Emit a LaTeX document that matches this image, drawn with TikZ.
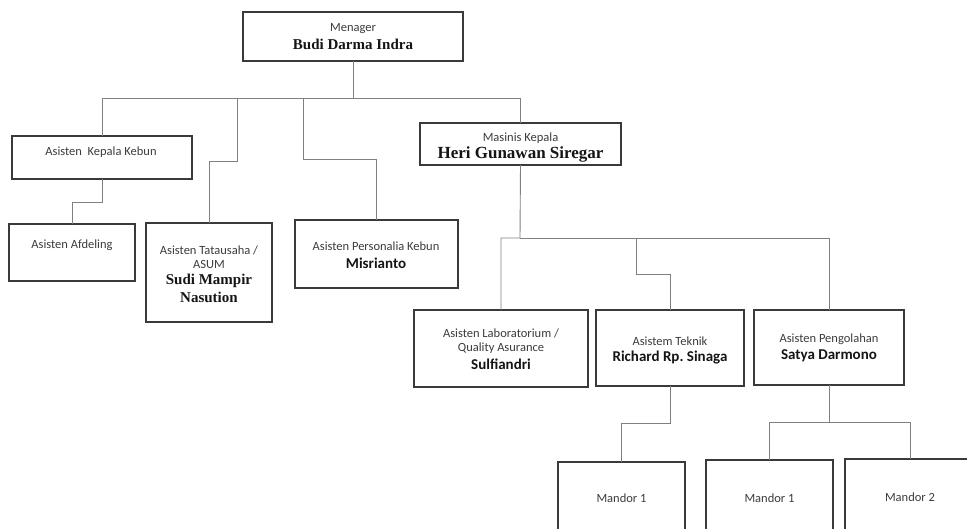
\documentclass[tikz,border=0pt]{standalone}
\usepackage{fontspec}
\newfontfamily\carlito{Carlito}
\newfontfamily\lserif{Liberation Serif}
\definecolor{boxc}{HTML}{3A3A3A}
\definecolor{linec}{HTML}{808080}
\definecolor{txtc}{HTML}{3C3C3C}
\definecolor{namec}{HTML}{151515}
\tikzset{
  orgbox/.style={draw=boxc, line width=1.4pt, rectangle, inner sep=0pt, outer sep=0pt, fill=white},
  conn/.style={draw=linec, line width=0.9pt},
  lbl/.style={font=\carlito\fontsize{12.5}{14}\selectfont, text=txtc, inner sep=0pt},
  nmserif/.style={font=\lserif\bfseries\fontsize{15}{17}\selectfont, text=namec, inner sep=0pt},
  nmsans/.style={font=\carlito\bfseries\fontsize{15}{17}\selectfont, text=namec, inner sep=0pt},
}
\begin{document}
\frenchspacing
\begin{tikzpicture}[x=1pt,y=-1pt]
\useasboundingbox (0,0) rectangle (967,529);
\clip (0,0) rectangle (967,529);
% boxes
\node[orgbox, minimum width=220pt, minimum height=49pt] (mgr) at (353,36.5) {};
\node[orgbox, minimum width=180pt, minimum height=43pt] (akk) at (102,157.5) {};
\node[orgbox, minimum width=126pt, minimum height=57pt] (afd) at (72,252.5) {};
\node[orgbox, minimum width=126pt, minimum height=99pt] (tu) at (209,272.5) {};
\node[orgbox, minimum width=163pt, minimum height=68pt] (pk) at (376.5,254) {};
\node[orgbox, minimum width=201pt, minimum height=42pt] (mk) at (520.5,144) {};
\node[orgbox, minimum width=174pt, minimum height=77pt] (lab) at (501,348.5) {};
\node[orgbox, minimum width=148pt, minimum height=76pt] (tek) at (670,348) {};
\node[orgbox, minimum width=150pt, minimum height=75pt] (peng) at (829,347.5) {};
\node[orgbox, minimum width=127pt, minimum height=98pt] (ma) at (621.5,511) {};
\node[orgbox, minimum width=127pt, minimum height=100pt] (mb) at (769.5,510) {};
\node[orgbox, minimum width=130pt, minimum height=101pt] (mc) at (910,509.5) {};
% junction coordinates
\coordinate (b1) at (353,98);
\coordinate (tuA) at (237,98);
\coordinate (tuB) at (237,161);
\coordinate (pkA) at (303,98);
\coordinate (pkB) at (303,159);
\coordinate (afA) at (102,202);
\coordinate (b2) at (520,238);
\coordinate (tkA) at (636,238);
\coordinate (tkB) at (636,274);
\coordinate (b3) at (670,423);
\coordinate (b4) at (829,422);
% connectors
\draw[conn] (mgr.south) -- (b1) -| (akk.north);
\draw[conn] (b1) -| (mk.north);
\draw[conn] (tuA) -- (tuB) -| (tu.north);
\draw[conn] (pkA) -- (pkB) -| (pk.north);
\draw[conn] (akk.south) -- (afA) -| (afd.north);
\draw[conn] (mk.south) -- (b2) -| (lab.north);
\draw[conn] (b2) -| (peng.north);
\draw[conn] (tkA) -- (tkB) -| (tek.north);
\draw[conn] (tek.south) -- (b3) -| (ma.north);
\draw[conn] (peng.south) -- (b4) -| (mb.north);
\draw[conn] (b4) -| (mc.north);
% texts
\node[lbl] (t1) at (353,29) {Menager};
\node[nmserif] (t2) at (353,44.5) {Budi Darma Indra};
\node[lbl] (t3) at (101,152) {Asisten\ \ Kepala Kebun};
\node[lbl] (t4) at (72,245) {Asisten Afdeling};
\node[lbl] (t5) at (209,250) {Asisten Tatausaha /};
\node[lbl] (t6) at (209,264) {ASUM};
\node[nmserif] (t7) at (209,280.5) {Sudi Mampir};
\node[nmserif] (t8) at (209,297.5) {Nasution};
\node[lbl] (t9) at (376,246) {Asisten Personalia Kebun};
\node[nmsans] (t10) at (376,263) {Misrianto};
\node[lbl] (t11) at (520.5,138) {Masinis Kepala};
\node[nmserif, font=\lserif\bfseries\fontsize{17}{19}\selectfont] (t12) at (520.5,154) {Heri Gunawan Siregar};
\node[lbl] (t13) at (501,333) {Asisten Laboratorium /};
\node[lbl] (t14) at (501,348) {Quality Asurance};
\node[nmsans] (t15) at (501,364.5) {Sulfiandri};
\node[lbl] (t16) at (670,341) {Asistem Teknik};
\node[nmsans] (t17) at (670,357.5) {Richard Rp. Sinaga};
\node[lbl] (t18) at (829,339) {Asisten Pengolahan};
\node[nmsans] (t19) at (829,356) {Satya Darmono};
\node[lbl] (t20) at (621.5,498) {Mandor 1};
\node[lbl] (t21) at (769.5,498) {Mandor 1};
\node[lbl] (t22) at (910,497) {Mandor 2};
\end{tikzpicture}
\end{document}
